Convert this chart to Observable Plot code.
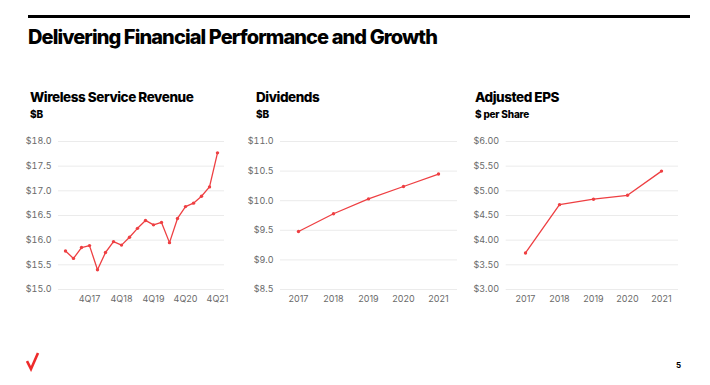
<!DOCTYPE html>
<html>
<head>
<meta charset="utf-8">
<script src="https://cdn.jsdelivr.net/npm/d3@7"></script>
<script src="https://cdn.jsdelivr.net/npm/@observablehq/plot@0.6"></script>
<style>
  html, body { margin: 0; padding: 0; background: #fff; }
  body { width: 710px; height: 385px; position: relative; overflow: hidden; font-family: Inter, "Liberation Sans", sans-serif; }
  .rule { position: absolute; left: 28px; top: 15px; width: 662px; height: 3px; background: #000; }
  .title { position: absolute; left: 28px; top: 25px; font-size: 20px; font-weight: 800; letter-spacing: -0.9px; color: #000; }
  .ctitle { position: absolute; font-size: 13.5px; font-weight: 800; letter-spacing: -0.45px; color: #000; line-height: 15px; }
  .csub { position: absolute; font-size: 10px; font-weight: 800; letter-spacing: -0.2px; color: #000; line-height: 12px; }
  .chart { position: absolute; }
  .page { position: absolute; left: 676px; top: 360px; font-size: 8px; font-weight: 700; color: #000; }
  .logo { position: absolute; left: 26px; top: 352px; }
</style>
</head>
<body>
<div class="rule"></div>
<div class="title">Delivering Financial Performance and Growth</div>

<div class="ctitle" style="left:30px;top:90px">Wireless Service Revenue</div>
<div class="csub" style="left:30px;top:108px">$B</div>
<div class="ctitle" style="left:256px;top:90px">Dividends</div>
<div class="csub" style="left:256px;top:108px">$B</div>
<div class="ctitle" style="left:475px;top:90px">Adjusted EPS</div>
<div class="csub" style="left:475px;top:108px">$ per Share</div>

<div id="c1" class="chart" style="left:20px;top:130px"></div>
<div id="c2" class="chart" style="left:245px;top:130px"></div>
<div id="c3" class="chart" style="left:465px;top:130px"></div>

<svg class="logo" width="14" height="20" viewBox="0 0 14 20"><polyline points="1,9 5,17 12,1" fill="none" stroke="#ee2b2b" stroke-width="2.6" stroke-linejoin="miter"/></svg>
<div class="page">5</div>

<script>
const quarters = ["1Q17","2Q17","3Q17","4Q17","1Q18","2Q18","3Q18","4Q18","1Q19","2Q19","3Q19","4Q19","1Q20","2Q20","3Q20","4Q20","1Q21","2Q21","3Q21","4Q21"];
const wirelessRevenue = [15.78,15.63,15.85,15.89,15.40,15.75,15.97,15.90,16.06,16.24,16.40,16.31,16.36,15.95,16.44,16.68,16.75,16.89,17.08,17.77];
const quarterTicks = ["4Q17","4Q18","4Q19","4Q20","4Q21"];
const revenueTicks = [15.0,15.5,16.0,16.5,17.0,17.5,18.0];

const years = ["2017","2018","2019","2020","2021"];
const dividends = [9.48,9.78,10.03,10.24,10.45];
const dividendTicks = [8.5,9.0,9.5,10.0,10.5,11.0];

const adjustedEPS = [3.74,4.72,4.83,4.91,5.40];
const epsTicks = [3.0,3.5,4.0,4.5,5.0,5.5,6.0];

const RED = "#ee3f42";

function makeChart(el, cfg) {
  const data = cfg.x.map((x, i) => ({x, y: cfg.y[i]}));
  const fmt = v => "$" + d3.format(cfg.fmt)(v);
  const chart = Plot.plot({
    width: cfg.width,
    height: 185,
    marginTop: 11,
    marginBottom: 26,
    marginLeft: cfg.marginLeft,
    marginRight: cfg.marginRight,
    style: {fontFamily: "Inter, 'Liberation Sans', sans-serif", fontSize: "9px", color: "#6a6a6a", background: "transparent"},
    x: {type: "point", domain: cfg.x, padding: 0, insetLeft: cfg.insetLeft, insetRight: cfg.insetRight},
    y: {domain: [cfg.ticks[0], cfg.ticks[cfg.ticks.length - 1]]},
    marks: [
      Plot.gridY(cfg.ticks, {stroke: "#ebebeb", strokeOpacity: 1, strokeWidth: 1}),
      Plot.axisY(cfg.ticks, {tickSize: 0, tickPadding: 7, tickFormat: fmt, label: null}),
      Plot.axisX(cfg.xticks, {tickSize: 0, tickPadding: 6, label: null}),
      Plot.line(data, {x: "x", y: "y", stroke: RED, strokeWidth: 1.3}),
      Plot.dot(data, {x: "x", y: "y", fill: RED, r: 1.7})
    ]
  });
  document.getElementById(el).appendChild(chart);
}

makeChart("c1", {x: quarters, y: wirelessRevenue, xticks: quarterTicks, ticks: revenueTicks, fmt: ".1f",
  width: 215, marginLeft: 38, marginRight: 11, insetLeft: 4.7, insetRight: 4});
makeChart("c2", {x: years, y: dividends, xticks: years, ticks: dividendTicks, fmt: ".1f",
  width: 222, marginLeft: 35, marginRight: 10, insetLeft: 17.7, insetRight: 18});
makeChart("c3", {x: years, y: adjustedEPS, xticks: years, ticks: epsTicks, fmt: ".2f",
  width: 223, marginLeft: 40.7, marginRight: 10, insetLeft: 17.6, insetRight: 15.7});
</script>
</body>
</html>
